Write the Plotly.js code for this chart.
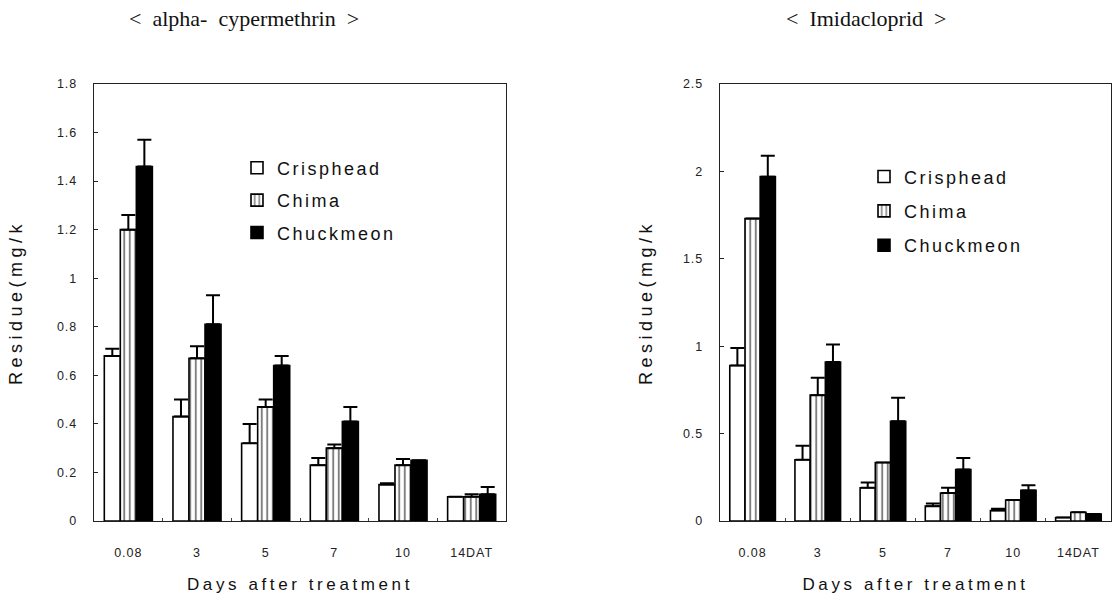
<!DOCTYPE html>
<html>
<head>
<meta charset="utf-8">
<script src="https://cdn.plot.ly/plotly-3.0.1.min.js"></script>
<style>
  html, body { margin: 0; padding: 0; background: #fff; }
  #chart { width: 1112px; height: 600px; }
  text.legendtext, g.legend text, g.legend2 text { letter-spacing: 2.5px; }
  .xtitle, .x2title { letter-spacing: 3.6px; }
  .ytitle, .y2title { letter-spacing: 4.5px; }
  .xtick text, .x2tick text, .ytick text, .y2tick text { letter-spacing: 1px; }
</style>
</head>
<body>
<div id="chart"></div>
<script>
// ---- Data ----
const categories = ['0.08', '3', '5', '7', '10', '14DAT'];
const seriesNames = ['Crisphead', 'Chima', 'Chuckmeon'];

// alpha-cypermethrin residues (mg/kg)
const alphaCrisphead    = [0.68, 0.43, 0.32, 0.23, 0.15, 0.10];
const alphaCrispheadErr = [0.03, 0.07, 0.08, 0.03, 0.005, 0.0];
const alphaChima        = [1.20, 0.67, 0.47, 0.30, 0.23, 0.10];
const alphaChimaErr     = [0.06, 0.05, 0.03, 0.015, 0.025, 0.01];
const alphaChuckmeon    = [1.46, 0.81, 0.64, 0.41, 0.25, 0.11];
const alphaChuckmeonErr = [0.11, 0.12, 0.04, 0.06, 0.0, 0.03];

// Imidacloprid residues (mg/kg)
const imidCrisphead    = [0.89, 0.35, 0.19, 0.085, 0.06, 0.02];
const imidCrispheadErr = [0.10, 0.08, 0.03, 0.015, 0.01, 0.0];
const imidChima        = [1.73, 0.72, 0.335, 0.16, 0.12, 0.05];
const imidChimaErr     = [0.0, 0.10, 0.0, 0.03, 0.0, 0.0];
const imidChuckmeon    = [1.97, 0.91, 0.57, 0.295, 0.175, 0.04];
const imidChuckmeonErr = [0.12, 0.10, 0.135, 0.065, 0.03, 0.0];

// ---- Styles ----
const styles = [
  { color: '#ffffff', pattern: { shape: '' } },
  { color: '#ffffff', pattern: { shape: '|', fgcolor: '#000', bgcolor: '#fff', size: 5.5, solidity: 0.35, fillmode: 'overlay' } },
  { color: '#000000', pattern: { shape: '' } }
];

function makeTrace(name, values, errs, idx, xa, ya, legendId) {
  return {
    type: 'bar',
    name: name,
    x: categories,
    y: values,
    xaxis: xa,
    yaxis: ya,
    legend: legendId,
    legendgroup: legendId + name,
    showlegend: true,
    marker: {
      color: styles[idx].color,
      pattern: styles[idx].pattern,
      line: { color: '#000', width: 1.6 }
    },
    error_y: {
      type: 'data', symmetric: false, array: errs,
      arrayminus: errs.map(() => 0),
      color: '#000', thickness: 2, width: 7
    },
    hoverinfo: 'x+y+name'
  };
}

const data = [
  makeTrace(seriesNames[0], alphaCrisphead, alphaCrispheadErr, 0, 'x', 'y', 'legend'),
  makeTrace(seriesNames[1], alphaChima, alphaChimaErr, 1, 'x', 'y', 'legend'),
  makeTrace(seriesNames[2], alphaChuckmeon, alphaChuckmeonErr, 2, 'x', 'y', 'legend'),
  makeTrace(seriesNames[0], imidCrisphead, imidCrispheadErr, 0, 'x2', 'y2', 'legend2'),
  makeTrace(seriesNames[1], imidChima, imidChimaErr, 1, 'x2', 'y2', 'legend2'),
  makeTrace(seriesNames[2], imidChuckmeon, imidChuckmeonErr, 2, 'x2', 'y2', 'legend2')
];

const tickFont = { family: 'Liberation Sans, Arial, sans-serif', size: 12.5, color: '#222' };
const titleFont = { family: 'Liberation Sans, Arial, sans-serif', size: 17, color: '#111' };

function xAxis(domain, rng) {
  return {
    domain: domain, type: 'category', range: rng,
    showline: true, mirror: true, linecolor: '#222', linewidth: 1.2,
    ticks: 'inside', tickson: 'boundaries', ticklen: 3, tickcolor: '#444',
    ticklabelstandoff: 20,
    tickfont: tickFont, showgrid: false, zeroline: false, fixedrange: true,
    title: { text: 'Days after treatment', font: titleFont, standoff: 18 },
    automargin: false
  };
}
function yAxis(anchor, rng, dtick, standoff) {
  return {
    anchor: anchor, range: rng, dtick: dtick, tick0: 0,
    showline: true, mirror: true, linecolor: '#222', linewidth: 1.2,
    ticks: 'inside', ticklen: 4, tickcolor: '#222',
    ticklabelstandoff: 13,
    tickfont: tickFont, showgrid: false, zeroline: false, fixedrange: true,
    title: { text: 'Residue(mg/k', font: { family: 'Liberation Sans, Arial, sans-serif', size: 18, color: '#111' }, standoff: standoff },
    automargin: false
  };
}

const W = 1112;
const legendFont = { family: 'Liberation Sans, Arial, sans-serif', size: 18, color: '#111' };
const layout = {
  width: 1112, height: 600,
  margin: { l: 0, r: 0, t: 84, b: 79 },
  paper_bgcolor: '#fff', plot_bgcolor: '#fff',
  barmode: 'group', bargap: 0.3, bargroupgap: 0,
  xaxis: xAxis([94 / W, 506 / W], [-0.5, 5.5]),
  yaxis: yAxis('x', [0, 1.8], 0.2, 29),
  xaxis2: xAxis([720 / W, 1111 / W], [-0.5, 5.5]),
  yaxis2: yAxis('x2', [0, 2.5], 0.5, 25),
  legend: {
    x: 237 / W, y: 0.85, xanchor: 'left', yanchor: 'top',
    bgcolor: 'rgba(0,0,0,0)', borderwidth: 0, tracegroupgap: 6,
    font: legendFont
  },
  legend2: {
    x: 864 / W, y: 0.83, xanchor: 'left', yanchor: 'top',
    bgcolor: 'rgba(0,0,0,0)', borderwidth: 0, tracegroupgap: 8,
    font: legendFont
  },
  annotations: [
    { text: '<\u00a0 alpha-\u00a0 cypermethrin\u00a0 >', xref: 'paper', yref: 'paper',
      x: 244 / W, y: 1 + (84 - 19) / 437, xanchor: 'center', yanchor: 'middle', showarrow: false,
      font: { family: 'Liberation Serif, Times New Roman, serif', size: 22, color: '#111' } },
    { text: '<\u00a0 Imidacloprid\u00a0 >', xref: 'paper', yref: 'paper',
      x: 866 / W, y: 1 + (84 - 19) / 437, xanchor: 'center', yanchor: 'middle', showarrow: false,
      font: { family: 'Liberation Serif, Times New Roman, serif', size: 22, color: '#111' } }
  ],
  showlegend: true
};

Plotly.newPlot('chart', data, layout, { displayModeBar: false, staticPlot: true });
</script>
</body>
</html>
